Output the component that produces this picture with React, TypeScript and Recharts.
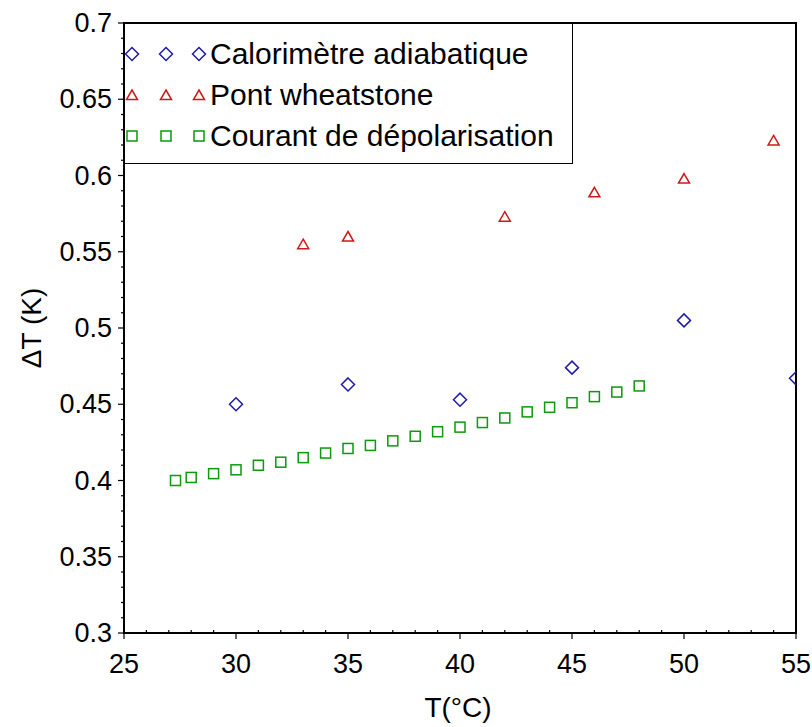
import { ScatterChart, Scatter, XAxis, YAxis, Legend, ReferenceArea } from "recharts";

const calorimetreT = [30, 35, 40, 45, 50, 55];
const calorimetreDT = [0.45, 0.463, 0.453, 0.474, 0.505, 0.467];

const wheatstoneT = [33, 35, 42, 46, 50, 54];
const wheatstoneDT = [0.555, 0.56, 0.573, 0.589, 0.598, 0.623];

const depolT = [27.3, 28, 29, 30, 31, 32, 33, 34, 35, 36, 37, 38, 39, 40, 41, 42, 43, 44, 45, 46, 47, 48];
const depolDT = [
  0.4, 0.402, 0.4045, 0.407, 0.41, 0.412, 0.415, 0.418, 0.421, 0.423, 0.426,
  0.429, 0.432, 0.435, 0.438, 0.441, 0.445, 0.448, 0.451, 0.455, 0.458, 0.462,
];

const xMajorTicks = [25, 30, 35, 40, 45, 50, 55];
const yMajorTicks = [0.3, 0.35, 0.4, 0.45, 0.5, 0.55, 0.6, 0.65, 0.7];

const seriesNames = ["Calorimètre adiabatique", "Pont wheatstone", "Courant de dépolarisation"];

const BLUE = "#1c1ca6";
const RED = "#cc1a1a";
const GREEN = "#0a9a0a";
const FONT = "'Liberation Sans', Arial, sans-serif";

// minor ticks every 1 °C and every 0.01 K
const xTicks: number[] = [];
for (let t = 25; t <= 55; t++) xTicks.push(t);
const yTicks: number[] = [];
for (let i = 30; i <= 70; i++) yTicks.push(i / 100);

const toPoints = (xs: number[], ys: number[]) => xs.map((x, i) => ({ x, y: ys[i] }));

function Diamond({ cx, cy }: any) {
  return (
    <path
      d={`M${cx},${cy - 6.5} L${cx + 6.5},${cy} L${cx},${cy + 6.5} L${cx - 6.5},${cy} Z`}
      fill="none"
      stroke={BLUE}
      strokeWidth={1.5}
    />
  );
}

function Triangle({ cx, cy }: any) {
  return (
    <path
      d={`M${cx},${cy - 5} L${cx + 5.5},${cy + 4.5} L${cx - 5.5},${cy + 4.5} Z`}
      fill="none"
      stroke={RED}
      strokeWidth={1.5}
    />
  );
}

function Square({ cx, cy }: any) {
  return <rect x={cx - 5} y={cy - 5} width={10} height={10} fill="none" stroke={GREEN} strokeWidth={1.5} />;
}

function XTick({ x, y, payload }: any) {
  const v = payload.value;
  const major = xMajorTicks.includes(v);
  return (
    <g>
      <line x1={x} x2={x} y1={y} y2={major ? y + 6 : y - 3} stroke="#000" strokeWidth={1.2} />
      {major && (
        <text x={x} y={y + 40} textAnchor="middle" fontSize={27} fontFamily={FONT} fill="#000">
          {v}
        </text>
      )}
    </g>
  );
}

function YTick({ x, y, payload }: any) {
  const v = payload.value;
  const major = yMajorTicks.some((m) => Math.abs(m - v) < 1e-6);
  return (
    <g>
      <line x1={x - (major ? 6 : 3)} x2={x} y1={y} y2={y} stroke="#000" strokeWidth={1.2} />
      {major && (
        <text x={x - 12} y={y + 9} textAnchor="end" fontSize={27} fontFamily={FONT} fill="#000">
          {String(v)}
        </text>
      )}
    </g>
  );
}

function LegendBox() {
  const markers = [Diamond, Triangle, Square];
  return (
    <div
      style={{
        width: 449,
        height: 141,
        boxSizing: "border-box",
        border: "1.5px solid #000",
        background: "#fff",
      }}
    >
      <svg width={446} height={138} style={{ display: "block" }}>
        {seriesNames.map((name, i) => {
          const Marker = markers[i];
          const cy = 30 + i * 41;
          return (
            <g key={name}>
              <Marker cx={7} cy={cy} />
              <Marker cx={41} cy={cy} />
              <Marker cx={74} cy={cy} />
              <text x={85} y={cy + 10} fontSize={30} fontFamily={FONT} fill="#000">
                {name}
              </text>
            </g>
          );
        })}
      </svg>
    </div>
  );
}

export default function App() {
  return (
    <div style={{ position: "absolute", left: 0, top: 0, background: "#fff" }}>
      <ScatterChart width={812} height={727} margin={{ top: 23, right: 16, left: 0, bottom: 0 }}>
        <XAxis
          type="number"
          dataKey="x"
          domain={[25, 55]}
          ticks={xTicks}
          interval={0}
          allowDataOverflow
          tickSize={0}
          tickMargin={0}
          tick={<XTick />}
          height={94}
          axisLine={{ stroke: "#000", strokeWidth: 2 }}
          label={{
            value: "T(°C)",
            position: "center",
            dx: -2,
            dy: 27,
            style: { fontSize: 28, fontFamily: FONT, fill: "#000" },
          }}
        />
        <YAxis
          type="number"
          dataKey="y"
          domain={[0.3, 0.7]}
          ticks={yTicks}
          interval={0}
          allowDataOverflow
          tickSize={0}
          tickMargin={0}
          tick={<YTick />}
          width={124}
          axisLine={{ stroke: "#000", strokeWidth: 2 }}
          label={{
            value: "ΔT (K)",
            angle: -90,
            position: "center",
            dx: -31,
            style: { fontSize: 28, fontFamily: FONT, fill: "#000" },
          }}
        />
        <ReferenceArea x1={25} x2={55} y1={0.3} y2={0.7} fill="none" stroke="#000" strokeWidth={2} />
        <Scatter
          name={seriesNames[0]}
          data={toPoints(calorimetreT, calorimetreDT)}
          shape={(p: any) => <Diamond {...p} />}
          isAnimationActive={false}
        />
        <Scatter
          name={seriesNames[1]}
          data={toPoints(wheatstoneT, wheatstoneDT)}
          shape={(p: any) => <Triangle {...p} />}
          isAnimationActive={false}
        />
        <Scatter
          name={seriesNames[2]}
          data={toPoints(depolT, depolDT)}
          shape={(p: any) => <Square {...p} />}
          isAnimationActive={false}
        />
        <Legend
          layout="horizontal"
          verticalAlign="middle"
          align="center"
          wrapperStyle={{ position: "absolute", left: 124, top: 23, width: 449, height: 141 }}
          content={() => <LegendBox />}
        />
      </ScatterChart>
    </div>
  );
}
